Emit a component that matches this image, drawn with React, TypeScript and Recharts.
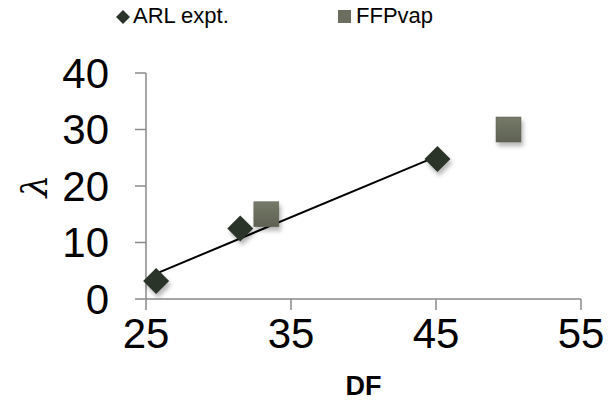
import { Legend, ReferenceLine, Scatter, ScatterChart, XAxis, YAxis } from "recharts";

const ARL_X = [25.7, 31.5, 45.1];
const ARL_Y = [3.2, 12.5, 24.8];
const FFP_X = [33.3, 50];
const FFP_Y = [15, 30];
const TREND_X = [25.7, 45.1];
const TREND_Y = [4.5, 25.3];
const X_TICKS = [25, 35, 45, 55];
const Y_TICKS = [0, 10, 20, 30, 40];

const arl = ARL_X.map((x, i) => ({ x, y: ARL_Y[i] }));
const ffp = FFP_X.map((x, i) => ({ x, y: FFP_Y[i] }));

const FONT = "'Liberation Sans', Arial, sans-serif";
const AXIS = "#8a8a8a";
const SHADOW = "drop-shadow(2px 4px 2px rgba(0,0,0,0.28))";

function Diamond(props: any) {
  const { cx, cy } = props;
  const r = 13;
  return (
    <path
      d={`M${cx},${cy - r}L${cx + r},${cy}L${cx},${cy + r}L${cx - r},${cy}Z`}
      fill="#2b3429"
      style={{ filter: SHADOW }}
    />
  );
}

function Square(props: any) {
  const { cx, cy } = props;
  const s = 25;
  return (
    <rect
      x={cx - s / 2}
      y={cy - s / 2}
      width={s}
      height={s}
      fill="url(#sqGrad)"
      stroke="#5e6152"
      strokeWidth={0.5}
      style={{ filter: SHADOW }}
    />
  );
}

function LambdaLabel(props: any) {
  const { viewBox } = props;
  const x = viewBox.x + 34;
  const y = viewBox.y + viewBox.height / 2;
  return (
    <text
      x={x}
      y={y}
      transform={`rotate(-90 ${x} ${y})`}
      textAnchor="middle"
      dominantBaseline="central"
      fontFamily="'DejaVu Serif', serif"
      fontStyle="italic"
      fontSize={36}
      fill="#000"
    >
      λ
    </text>
  );
}

function LegendBox() {
  return (
    <div style={{ position: "relative", height: 40, fontFamily: FONT, fontSize: 22 }}>
      <svg width={20} height={20} style={{ position: "absolute", left: 113, top: 7 }}>
        <path d="M10,3L17,10L10,17L3,10Z" fill="#2b3429" />
      </svg>
      <span style={{ position: "absolute", left: 133, top: 3 }}>ARL expt.</span>
      <svg width={16} height={16} style={{ position: "absolute", left: 337, top: 9 }}>
        <rect x={1} y={1} width={13} height={13} fill="#6b6e5e" />
      </svg>
      <span style={{ position: "absolute", left: 356, top: 3 }}>FFPvap</span>
    </div>
  );
}

export default function App() {
  return (
    <div style={{ position: "absolute", left: 0, top: 0, background: "#fff" }}>
      <ScatterChart
        width={613}
        height={416}
        margin={{ top: 33, right: 32, bottom: 0, left: 0 }}
        style={{ fontFamily: FONT }}
      >
        <defs>
          <linearGradient id="sqGrad" x1="0" y1="0" x2="0" y2="1">
            <stop offset="0%" stopColor="#767a68" />
            <stop offset="100%" stopColor="#5f6253" />
          </linearGradient>
        </defs>
        <Legend
          verticalAlign="top"
          content={() => <LegendBox />}
          wrapperStyle={{ top: 0, left: 0, width: 613 }}
        />
        <XAxis
          type="number"
          dataKey="x"
          domain={[25, 55]}
          ticks={X_TICKS}
          height={117}
          stroke={AXIS}
          strokeWidth={1.5}
          tickSize={11}
          tickMargin={8}
          tick={{ fill: "#000", fontSize: 42 }}
          label={{
            value: "DF",
            position: "insideBottom",
            offset: 21,
            fill: "#000",
            fontSize: 27,
            fontWeight: "bold",
          }}
        />
        <YAxis
          type="number"
          dataKey="y"
          domain={[0, 40]}
          ticks={Y_TICKS}
          width={146}
          stroke={AXIS}
          strokeWidth={1.5}
          tickSize={11}
          tickMargin={26}
          tick={{ fill: "#000", fontSize: 42 }}
          label={<LambdaLabel />}
        />
        <Scatter data={arl} shape={<Diamond />} isAnimationActive={false} />
        <Scatter data={ffp} shape={<Square />} isAnimationActive={false} />
        <ReferenceLine
          segment={[
            { x: TREND_X[0], y: TREND_Y[0] },
            { x: TREND_X[1], y: TREND_Y[1] },
          ]}
          stroke="#000"
          strokeWidth={2}
        />
      </ScatterChart>
    </div>
  );
}
